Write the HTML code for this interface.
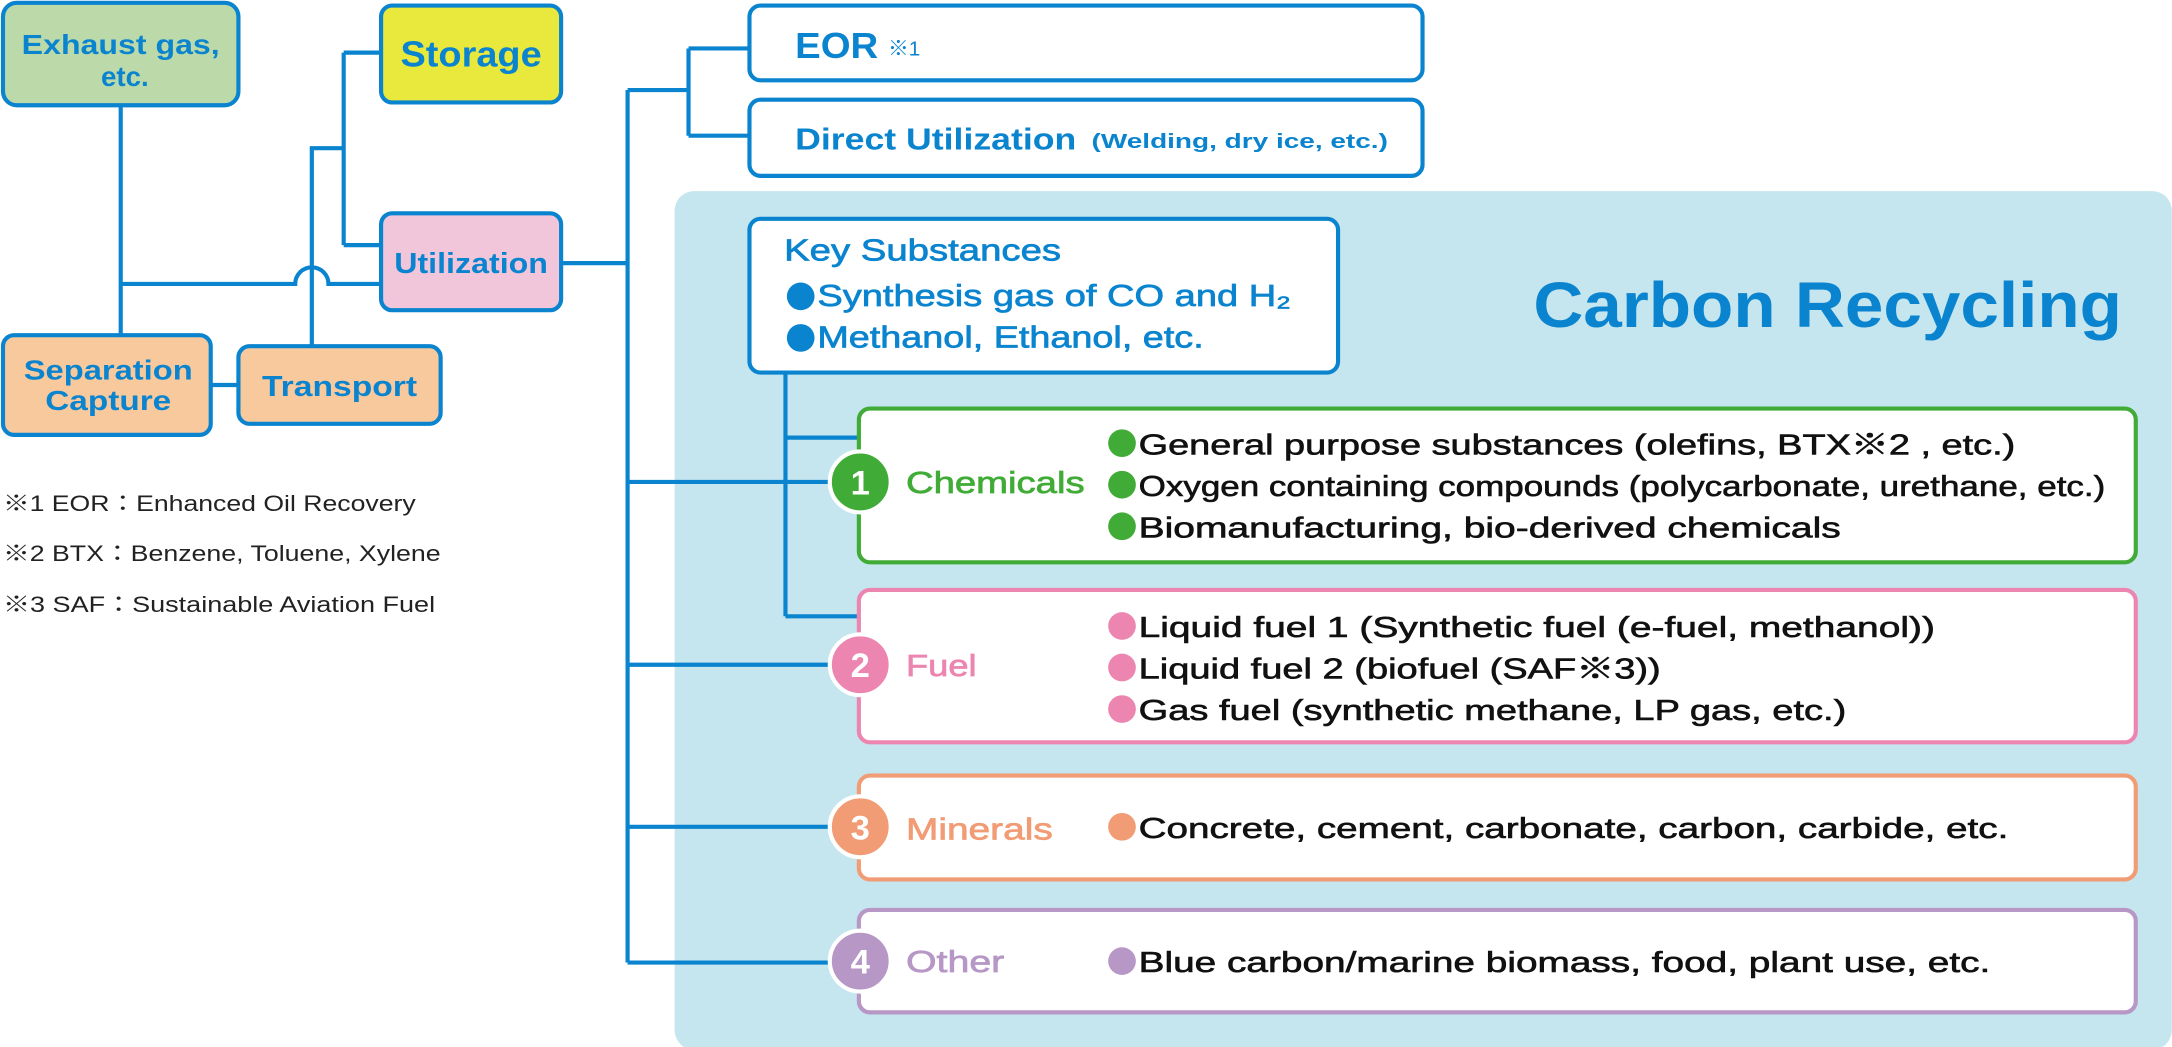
<!DOCTYPE html>
<html><head><meta charset="utf-8"><style>
html,body{margin:0;padding:0;background:#fff;}
svg{display:block;}
text{font-family:"Liberation Sans","Noto Sans CJK JP",sans-serif;}
.b{fill:#0a84cf;font-weight:bold;}
.k{fill:#111;font-size:21px;stroke:#111;stroke-width:0.45px;}
.m{stroke-width:0.5px;}
</style></head><body>
<svg width="2172" height="1047" viewBox="0 0 1568 756" xmlns="http://www.w3.org/2000/svg">
<rect x="487" y="138" width="1081" height="620" rx="14" fill="#c5e5ef"/>
<g stroke="#0a84cf" stroke-width="3" fill="none">
<path d="M87 76V242M87 205H213A12 12 0 0 1 237 205H275M152 278H172M225 250V107H248M248 38V177M248 38H275M248 177H275"/>
<path d="M405 190H453M453 65V695M453 65H497M497 35V98M497 35H541M497 98H541"/>
<path d="M453 348H600M453 480H600M453 597H600M453 695H600"/>
<path d="M567 270V445M567 316H620M567 445H620"/>
</g>
<g stroke="#0a84cf" stroke-width="3">
<rect x="2" y="2" width="170" height="74" rx="10" fill="#bcdaa9"/>
<rect x="275" y="4" width="130" height="70" rx="8" fill="#e9e83c"/>
<rect x="275" y="154" width="130" height="70" rx="8" fill="#f1c6da"/>
<rect x="2" y="242" width="150" height="72" rx="8" fill="#f7c99d"/>
<rect x="172" y="250" width="146" height="56" rx="8" fill="#f7c99d"/>
<rect x="541" y="4" width="486" height="54" rx="8" fill="#fff"/>
<rect x="541" y="72" width="486" height="55" rx="8" fill="#fff"/>
<rect x="541" y="158" width="425" height="111" rx="8" fill="#fff"/>
</g>
<g text-anchor="middle" class="b">
<text x="87" y="39" font-size="20" class="b" textLength="143" lengthAdjust="spacingAndGlyphs">Exhaust gas,</text>
<text x="90" y="62" font-size="20" class="b">etc.</text>
<text x="340" y="48" font-size="26" class="b" textLength="102" lengthAdjust="spacingAndGlyphs">Storage</text>
<text x="340" y="197" font-size="21" class="b" textLength="111" lengthAdjust="spacingAndGlyphs">Utilization</text>
<text x="78" y="274" font-size="20" class="b" textLength="122" lengthAdjust="spacingAndGlyphs">Separation</text>
<text x="78" y="296" font-size="20" class="b" textLength="91" lengthAdjust="spacingAndGlyphs">Capture</text>
<text x="245" y="286" font-size="21" class="b" textLength="112" lengthAdjust="spacingAndGlyphs">Transport</text>
</g>
<text x="574" y="42" font-size="26" class="b" textLength="60" lengthAdjust="spacingAndGlyphs">EOR</text>
<text x="641" y="40" font-size="15" fill="#0a84cf">※1</text>
<text x="574" y="108" font-size="22" class="b" textLength="203" lengthAdjust="spacingAndGlyphs">Direct Utilization</text>
<text x="788" y="107" font-size="15" class="b" textLength="214" lengthAdjust="spacingAndGlyphs">(Welding, dry ice, etc.)</text>
<text x="566" y="188" font-size="22" fill="#0a84cf" stroke="#0a84cf" class="m" textLength="200" lengthAdjust="spacingAndGlyphs">Key Substances</text>
<circle cx="578" cy="214" r="10" fill="#0a84cf"/><circle cx="578" cy="244" r="10" fill="#0a84cf"/>
<text x="590" y="221" font-size="22" fill="#0a84cf" stroke="#0a84cf" class="m" textLength="342" lengthAdjust="spacingAndGlyphs">Synthesis gas of CO and H₂</text>
<text x="590" y="251" font-size="22" fill="#0a84cf" stroke="#0a84cf" class="m" textLength="279" lengthAdjust="spacingAndGlyphs">Methanol, Ethanol, etc.</text>
<text x="1107" y="236" font-size="46" class="b" textLength="425" lengthAdjust="spacingAndGlyphs">Carbon Recycling</text>

<rect x="620" y="295" width="922" height="111" rx="8" fill="#fff" stroke="#40ac37" stroke-width="3"/>
<rect x="620" y="426" width="922" height="110" rx="8" fill="#fff" stroke="#ec86b1" stroke-width="3"/>
<rect x="620" y="560" width="922" height="75" rx="8" fill="#fff" stroke="#f19c74" stroke-width="3"/>
<rect x="620" y="657" width="922" height="74" rx="8" fill="#fff" stroke="#b797c6" stroke-width="3"/>
<g stroke="#fff" stroke-width="3">
<circle cx="621" cy="348" r="22" fill="#40ac37"/>
<circle cx="621" cy="480" r="22" fill="#ec86b1"/>
<circle cx="621" cy="597" r="22" fill="#f19c74"/>
<circle cx="621" cy="694" r="22" fill="#b797c6"/>
</g>
<g fill="#fff" font-size="25" font-weight="bold" text-anchor="middle">
<text x="621" y="357">1</text><text x="621" y="489">2</text><text x="621" y="606">3</text><text x="621" y="703">4</text>
</g>
<text x="654" y="356" font-size="22" fill="#40ac37" stroke="#40ac37" class="m" textLength="129" lengthAdjust="spacingAndGlyphs">Chemicals</text>
<text x="654" y="488" font-size="22" fill="#ec86b1" stroke="#ec86b1" class="m" textLength="51" lengthAdjust="spacingAndGlyphs">Fuel</text>
<text x="654" y="606" font-size="22" fill="#f19c74" stroke="#f19c74" class="m" textLength="106" lengthAdjust="spacingAndGlyphs">Minerals</text>
<text x="654" y="702" font-size="22" fill="#b797c6" stroke="#b797c6" class="m" textLength="71" lengthAdjust="spacingAndGlyphs">Other</text>
<g fill="#40ac37"><circle cx="810" cy="320" r="10"/><circle cx="810" cy="350" r="10"/><circle cx="810" cy="380" r="10"/></g>
<g fill="#ec86b1"><circle cx="810" cy="452" r="10"/><circle cx="810" cy="482" r="10"/><circle cx="810" cy="512" r="10"/></g>
<circle cx="810" cy="597" r="10" fill="#f19c74"/>
<circle cx="810" cy="694" r="10" fill="#b797c6"/>
<g>
<text x="822" y="328" class="k" textLength="633" lengthAdjust="spacingAndGlyphs">General purpose substances (olefins, BTX※2 , etc.)</text>
<text x="822" y="358" class="k" textLength="698" lengthAdjust="spacingAndGlyphs">Oxygen containing compounds (polycarbonate, urethane, etc.)</text>
<text x="822" y="388" class="k" textLength="507" lengthAdjust="spacingAndGlyphs">Biomanufacturing, bio-derived chemicals</text>
<text x="822" y="460" class="k" textLength="575" lengthAdjust="spacingAndGlyphs">Liquid fuel 1 (Synthetic fuel (e-fuel, methanol))</text>
<text x="822" y="490" class="k" textLength="377" lengthAdjust="spacingAndGlyphs">Liquid fuel 2 (biofuel (SAF※3))</text>
<text x="822" y="520" class="k" textLength="511" lengthAdjust="spacingAndGlyphs">Gas fuel (synthetic methane, LP gas, etc.)</text>
<text x="822" y="605" class="k" textLength="628" lengthAdjust="spacingAndGlyphs">Concrete, cement, carbonate, carbon, carbide, etc.</text>
<text x="822" y="702" class="k" textLength="615" lengthAdjust="spacingAndGlyphs">Blue carbon/marine biomass, food, plant use, etc.</text>
</g>
<g fill="#222" font-size="16">
<text x="2" y="369" textLength="298" lengthAdjust="spacingAndGlyphs">※1 EOR：Enhanced Oil Recovery</text>
<text x="2" y="405" textLength="316" lengthAdjust="spacingAndGlyphs">※2 BTX：Benzene, Toluene, Xylene</text>
<text x="2" y="442" textLength="312" lengthAdjust="spacingAndGlyphs">※3 SAF：Sustainable Aviation Fuel</text>
</g>
</svg>
</body></html>
